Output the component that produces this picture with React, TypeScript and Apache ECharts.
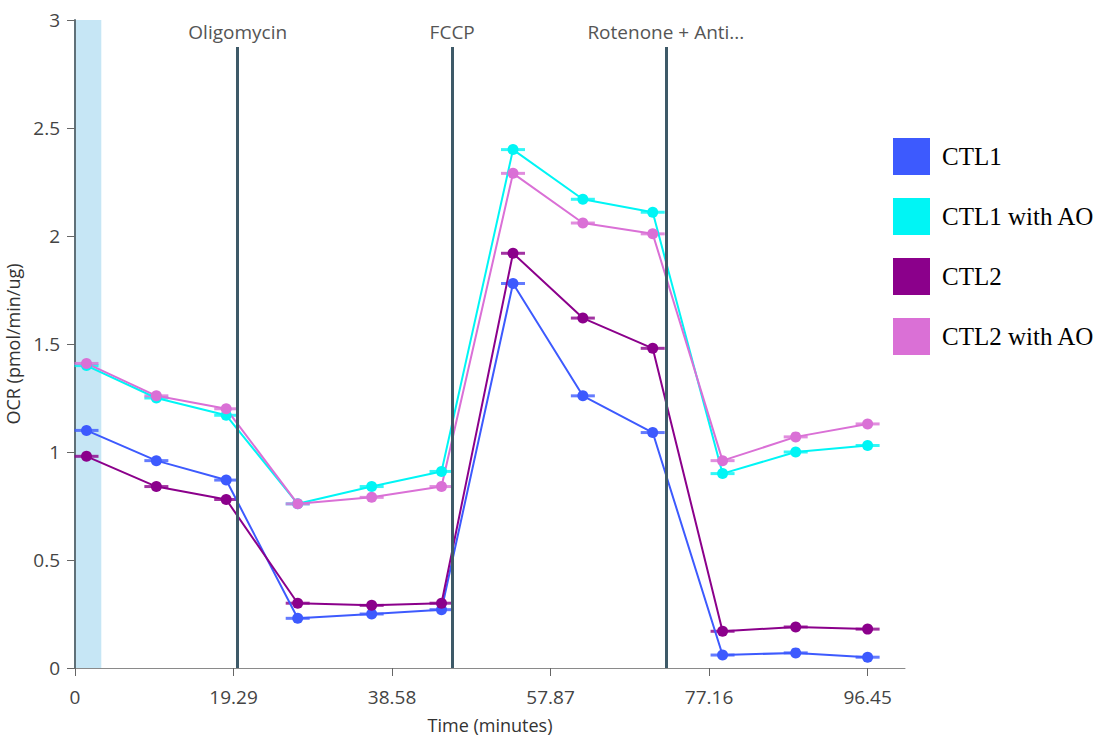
import React, { useEffect, useRef } from "react";
import * as echarts from "echarts";

const times = [1.4, 9.9, 18.4, 27.1, 36.1, 44.6, 53.3, 61.8, 70.3, 78.8, 87.7, 96.45];
const seriesNames = ["CTL1", "CTL1 with AO", "CTL2", "CTL2 with AO"];
const ctl1 = [1.1, 0.96, 0.87, 0.23, 0.25, 0.27, 1.78, 1.26, 1.09, 0.06, 0.07, 0.05];
const ctl1AO = [1.4, 1.25, 1.17, 0.76, 0.84, 0.91, 2.4, 2.17, 2.11, 0.9, 1.0, 1.03];
const ctl2 = [0.98, 0.84, 0.78, 0.3, 0.29, 0.3, 1.92, 1.62, 1.48, 0.17, 0.19, 0.18];
const ctl2AO = [1.41, 1.26, 1.2, 0.76, 0.79, 0.84, 2.29, 2.06, 2.01, 0.96, 1.07, 1.13];
const seriesColors = ["#3d5afe", "#00f5f5", "#8b008b", "#da70d6"];
const xTicks = [0, 19.29, 38.58, 57.87, 77.16, 96.45];
const injectionNames = ["Oligomycin", "FCCP", "Rotenone + Anti..."];
const injectionTimes = [19.8, 45.9, 71.9];
const baselineBand = [0, 3.2];

export default function App() {
  const ref = useRef<HTMLDivElement>(null);
  useEffect(() => {
    if (!ref.current) return;
    const chart = echarts.init(ref.current, null, { renderer: "svg" });
    const values = [ctl1, ctl1AO, ctl2, ctl2AO];
    const font = "'Open Sans', 'Noto Sans', sans-serif";

    const errSeries = values.map((vals, i) => ({
      name: seriesNames[i] + " err",
      type: "scatter",
      symbol: "rect",
      symbolSize: [24, 3],
      itemStyle: { color: seriesColors[i] },
      data: times.map((t, j) => [t, vals[j]]),
      z: 2,
      silent: true,
    }));

    const lineSeries = values.map((vals, i) => {
      const s: any = {
        name: seriesNames[i],
        type: "line",
        data: times.map((t, j) => [t, vals[j]]),
        symbol: "circle",
        symbolSize: 11,
        showSymbol: true,
        lineStyle: { color: seriesColors[i], width: 2 },
        itemStyle: { color: seriesColors[i] },
        z: 3,
      };
      if (i === 0) {
        s.markArea = {
          silent: true,
          itemStyle: { color: "#c6e6f5", opacity: 1 },
          data: [[{ xAxis: baselineBand[0] }, { xAxis: baselineBand[1] }]],
          z: 0,
        };
        s.markLine = {
          silent: true,
          symbol: "none",
          lineStyle: { color: "#3e5a68", width: 3, type: "solid" },
          label: {
            show: true,
            position: "end",
            distance: 6,
            color: "#555",
            fontSize: 19,
            fontFamily: font,
            formatter: (p: any) => p.name,
          },
          data: injectionTimes.map((t, k) => [
            { coord: [t, 0], name: injectionNames[k] },
            { coord: [t, 2.875] },
          ]),
        };
      }
      return s;
    });

    chart.setOption({
      animation: false,
      backgroundColor: "#ffffff",
      grid: {
        left: 75,
        right: 192,
        top: 20,
        bottom: 72,
        containLabel: false,
        outerBoundsMode: "none",
      },
      legend: {
        data: seriesNames,
        orient: "vertical",
        left: 893,
        top: 138,
        padding: 0,
        icon: "rect",
        itemWidth: 37,
        itemHeight: 37,
        itemGap: 23,
        textStyle: {
          fontFamily: "'Liberation Serif', 'Times New Roman', serif",
          fontSize: 25,
          color: "#000",
          padding: [0, 0, 0, 7],
        },
      },
      xAxis: {
        type: "value",
        min: 0,
        max: 101,
        name: "Time (minutes)",
        nameLocation: "middle",
        nameGap: 48,
        nameTextStyle: { fontFamily: font, fontSize: 18, color: "#333" },
        splitLine: { show: false },
        axisLine: { show: true, lineStyle: { color: "#8a8a8a", width: 1 } },
        axisTick: { show: true, length: 8, customValues: xTicks, lineStyle: { color: "#666" } },
        axisLabel: {
          customValues: xTicks,
          color: "#444",
          fontSize: 19,
          fontFamily: font,
          margin: 19,
          formatter: (v: number) => (v === 0 ? "0" : v.toFixed(2)),
        },
      },
      yAxis: {
        type: "value",
        min: 0,
        max: 3,
        interval: 0.5,
        name: "OCR (pmol/min/ug)",
        nameLocation: "middle",
        nameGap: 48,
        nameTextStyle: { fontFamily: font, fontSize: 18, color: "#333" },
        splitLine: { show: false },
        axisLine: { show: true, lineStyle: { color: "#5f7078", width: 2 } },
        axisTick: { show: true, length: 8, lineStyle: { color: "#666" } },
        axisLabel: { color: "#444", fontSize: 19, fontFamily: font, margin: 15 },
      },
      series: [...errSeries, ...lineSeries],
    });
    return () => chart.dispose();
  }, []);
  return (
    <div
      ref={ref}
      style={{ position: "absolute", left: 0, top: 0, width: 1097, height: 740, background: "#fff" }}
    />
  );
}
